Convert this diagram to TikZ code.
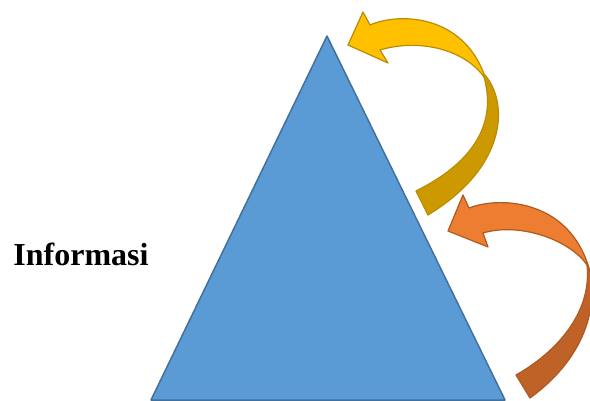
\documentclass[tikz,border=0pt]{standalone}
\usepackage{fontspec}
\setmainfont{Liberation Serif}
\usetikzlibrary{positioning}
\definecolor{triblue}{HTML}{5B9BD5}
\definecolor{triedge}{HTML}{41719C}
\definecolor{goldtop}{HTML}{FFC000}
\definecolor{goldlow}{HTML}{CC9A00}
\definecolor{goldedge}{HTML}{BC8C00}
\definecolor{orgtop}{HTML}{ED7D31}
\definecolor{orglow}{HTML}{BF6228}
\definecolor{orgedge}{HTML}{AE5A21}
\tikzset{
  tri/.style     = {fill=triblue, draw=triedge, line width=0.75pt, line join=round},
  goldup/.style  = {fill=goldtop, draw=goldedge, line width=0.6pt, line join=round},
  golddn/.style  = {fill=goldlow, draw=goldedge, line width=0.6pt, line join=round},
  orgup/.style   = {fill=orgtop, draw=orgedge, line width=0.6pt, line join=round},
  orgdn/.style   = {fill=orglow, draw=orgedge, line width=0.6pt, line join=round},
  lab/.style     = {font=\fontsize{16}{19}\selectfont\bfseries, inner sep=0pt, anchor=base west},
}

\begin{document}
\begin{tikzpicture}[x=0.5pt, y=-0.5pt]
\useasboundingbox (0,0) rectangle (590,401);
\clip (0,0) rectangle (590,401);

% Pyramid
\draw [tri] (327,36) -- (505,400) -- (151,400) -- cycle;

% Label on the left
\node (info) [lab] at (13,265) {Informasi};

% Lower arrow (orange): underside, then top with head
\draw [orgdn] (587,262) .. controls (598,290) and (596,350) .. (530,398)
  -- (516,375) .. controls (560,350) and (592,310) .. (587,265) -- cycle;
\draw [orgup] (469,208) .. controls (500,196) and (565,200) .. (587,262)
  -- (587,265) .. controls (570,240) and (520,222) .. (483,233)
  -- (488,247) -- (448,231) -- (463,195) -- cycle;

% Upper arrow (gold): underside, then top with head
\draw [golddn] (484,74) .. controls (508,100) and (510,165) .. (428,215)
  -- (416,191) .. controls (478,160) and (496,120) .. (484,77) -- cycle;
\draw [goldup] (370,25) .. controls (400,12) and (462,15) .. (484,74)
  -- (484,77) .. controls (465,50) and (420,38) .. (380,50)
  -- (388,63) -- (348,45) -- (363,12) -- cycle;

\end{tikzpicture}
\end{document}
